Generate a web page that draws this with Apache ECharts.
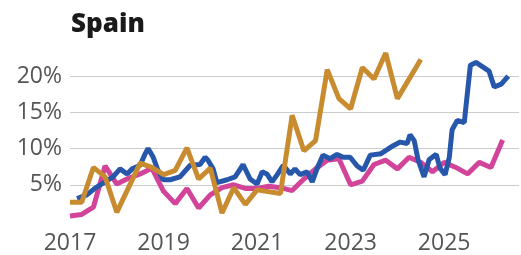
<!DOCTYPE html>
<html>
<head>
<meta charset="utf-8">
<script src="https://cdn.jsdelivr.net/npm/echarts@6/dist/echarts.min.js"></script>
<style>
  html, body { margin: 0; padding: 0; background: #fff; }
  #chart { width: 521px; height: 255px; }
</style>
</head>
<body>
<div id="chart"></div>
<script>
// values, [decimal year, percent]
const baseYear = 2017;
const yearTicks = [2017, 2019, 2021, 2023, 2025];
const pctTicks = [5, 10, 15, 20];

const blueSeries = [
  [2017.15, 3.1], [2017.36, 3.6], [2017.53, 4.5], [2017.75, 5.4], [2017.92, 6.1],
  [2018.07, 7.2], [2018.22, 6.5], [2018.33, 7.2], [2018.50, 7.7], [2018.60, 9.2],
  [2018.67, 10.0], [2018.78, 8.8], [2018.88, 7.0], [2018.99, 5.7], [2019.14, 5.7],
  [2019.35, 6.1], [2019.57, 7.7], [2019.78, 7.8], [2019.89, 8.8], [2019.95, 8.4],
  [2020.06, 7.2], [2020.14, 5.3], [2020.36, 5.7], [2020.53, 6.1], [2020.70, 7.8],
  [2020.85, 5.8], [2021.00, 5.1], [2021.11, 6.8], [2021.21, 6.5], [2021.32, 5.4],
  [2021.43, 6.4], [2021.56, 7.7], [2021.71, 6.5], [2021.81, 7.2], [2021.92, 6.4],
  [2022.07, 6.8], [2022.18, 5.4], [2022.28, 7.2], [2022.41, 9.1], [2022.56, 8.6],
  [2022.71, 9.2], [2022.84, 8.8], [2022.99, 8.8], [2023.14, 7.6], [2023.27, 7.0],
  [2023.42, 9.1], [2023.65, 9.3], [2023.91, 10.4], [2024.06, 10.9], [2024.21, 10.7],
  [2024.27, 11.9], [2024.36, 11.1], [2024.44, 8.5], [2024.57, 6.1], [2024.68, 8.5],
  [2024.83, 9.2], [2024.91, 7.3], [2025.02, 6.4], [2025.11, 8.8], [2025.17, 12.6],
  [2025.28, 13.9], [2025.43, 13.6], [2025.56, 21.5], [2025.68, 21.9], [2025.96, 20.7],
  [2026.07, 18.5], [2026.22, 18.9], [2026.37, 20.0]
];

const orangeSeries = [
  [2017.00, 2.6], [2017.25, 2.6], [2017.50, 7.4], [2017.75, 6.1], [2018.00, 1.2],
  [2018.50, 8.0], [2018.75, 7.4], [2019.00, 6.4], [2019.25, 7.0], [2019.50, 10.1],
  [2019.75, 5.8], [2020.00, 7.3], [2020.25, 1.1], [2020.50, 4.6], [2020.75, 2.3],
  [2021.00, 4.3], [2021.50, 3.8], [2021.75, 14.6], [2022.00, 9.7], [2022.25, 11.1],
  [2022.50, 20.9], [2022.75, 16.9], [2023.00, 15.5], [2023.25, 21.2], [2023.50, 19.6],
  [2023.75, 23.2], [2024.00, 16.9], [2024.50, 22.3]
];

const pinkSeries = [
  [2017.00, 0.7], [2017.25, 0.9], [2017.50, 1.9], [2017.75, 7.6], [2018.00, 5.1],
  [2018.25, 5.9], [2018.50, 6.5], [2018.75, 7.3], [2019.00, 4.1], [2019.25, 2.4],
  [2019.50, 4.5], [2019.75, 1.8], [2020.00, 3.6], [2020.25, 4.6], [2020.50, 5.0],
  [2020.75, 4.5], [2021.00, 4.5], [2021.25, 4.8], [2021.50, 4.6], [2021.75, 4.2],
  [2022.00, 5.8], [2022.25, 7.2], [2022.50, 8.4], [2022.75, 8.6], [2023.00, 5.0],
  [2023.25, 5.5], [2023.50, 7.8], [2023.75, 8.4], [2024.00, 7.2], [2024.25, 8.8],
  [2024.50, 8.1], [2024.75, 6.8], [2025.00, 8.1], [2025.25, 7.4], [2025.50, 6.5],
  [2025.75, 8.1], [2026.00, 7.4], [2026.25, 11.2]
];

const toT = arr => arr.map(p => [p[0] - baseYear, p[1]]);

const chart = echarts.init(document.getElementById('chart'));
const fontFam = '"Open Sans", "Noto Sans", sans-serif';

const option = {
  animation: false,
  title: {
    text: 'Spain',
    left: 66,
    top: 7,
    textStyle: { fontFamily: fontFam, fontSize: 26, fontWeight: 800, color: '#1a1a1a' }
  },
  grid: { left: 70, right: 2, top: 40, bottom: 30, containLabel: false },
  xAxis: {
    type: 'value',
    min: 0,
    max: 9.6,
    interval: 2,
    axisLine: { show: false },
    axisTick: { show: false },
    splitLine: { show: false },
    axisLabel: {
      margin: 11,
      fontFamily: fontFam,
      fontSize: 23,
      color: '#555',
      showMaxLabel: false,
      formatter: v => (yearTicks.indexOf(v + baseYear) >= 0 ? String(v + baseYear) : '')
    }
  },
  yAxis: {
    type: 'value',
    min: 0,
    max: 25,
    interval: 5,
    axisLine: { show: false },
    axisTick: { show: false },
    splitLine: {
      show: true,
      showMinLine: false,
      showMaxLine: false,
      lineStyle: { color: '#cccccc', width: 1 }
    },
    axisLabel: {
      margin: 8,
      fontFamily: fontFam,
      fontSize: 23,
      color: '#555',
      formatter: v => (pctTicks.indexOf(v) >= 0 ? v + '%' : '')
    }
  },
  series: [
    {
      name: 'pink', type: 'line', data: toT(pinkSeries), showSymbol: false,
      lineStyle: { color: '#d1449a', width: 5 }, itemStyle: { color: '#d1449a' }
    },
    {
      name: 'blue', type: 'line', data: toT(blueSeries), showSymbol: false,
      lineStyle: { color: '#2757ab', width: 5 }, itemStyle: { color: '#2757ab' }
    },
    {
      name: 'orange', type: 'line', data: toT(orangeSeries), showSymbol: false,
      lineStyle: { color: '#c98b30', width: 5 }, itemStyle: { color: '#c98b30' }
    }
  ]
};

chart.setOption(option);
</script>
</body>
</html>
